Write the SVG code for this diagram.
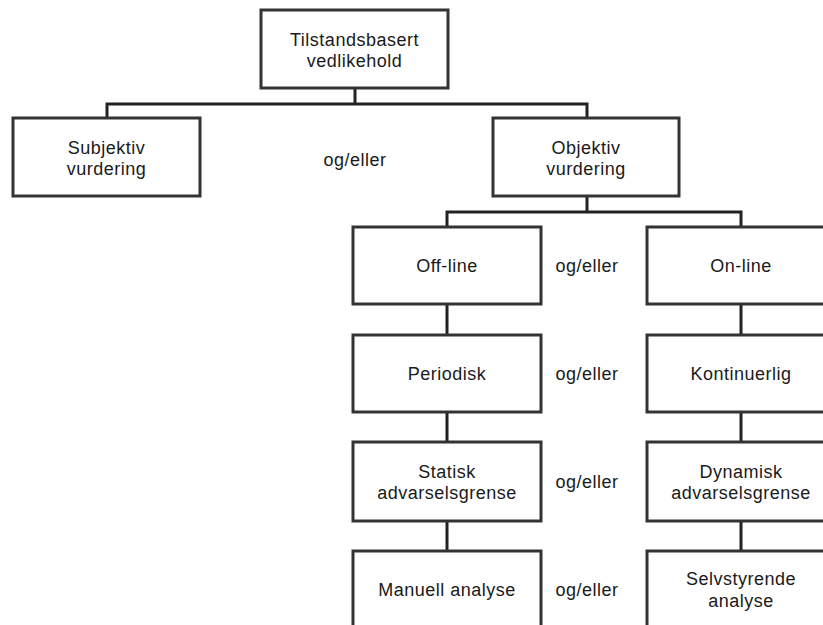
<svg xmlns="http://www.w3.org/2000/svg" width="823" height="625" viewBox="0 0 823 625">
  <style>
    .box { fill: #ffffff; stroke: #333333; stroke-width: 3; }
    .wire { fill: none; stroke: #222222; stroke-width: 3; stroke-linejoin: miter; }
    text { font-family: "Liberation Sans", Arial, sans-serif; font-size: 18px; letter-spacing: 0.5px; fill: #1a1a1a; text-anchor: middle; }
  </style>
  <rect width="823" height="625" fill="#ffffff"/>

  <!-- connectors -->
  <g id="connectors">
    <path class="wire" d="M355,88 V104 M107,118 V104 H587 V118"/>
    <path class="wire" d="M587,196 V212 M447,227 V212 H741 V227"/>
    <path class="wire" d="M447,304 V335 M447,412 V442 M447,521 V551"/>
    <path class="wire" d="M741,304 V335 M741,412 V442 M741,521 V551"/>
  </g>

  <g id="root">
    <rect class="box" x="261" y="10" width="187" height="78"/>
    <text x="354.5" y="46">Tilstandsbasert</text>
    <text x="354.5" y="67">vedlikehold</text>
  </g>

  <g id="subjektiv">
    <rect class="box" x="13" y="118" width="187" height="78"/>
    <text x="106.5" y="154">Subjektiv</text>
    <text x="106.5" y="175">vurdering</text>
  </g>

  <g id="og-eller-top">
    <text x="355" y="166">og/eller</text>
  </g>

  <g id="objektiv">
    <rect class="box" x="493" y="118" width="186" height="78"/>
    <text x="586" y="154">Objektiv</text>
    <text x="586" y="175">vurdering</text>
  </g>

  <g id="off-line">
    <rect class="box" x="353" y="227" width="188" height="77"/>
    <text x="447" y="272">Off-line</text>
  </g>
  <g id="og-eller-1"><text x="587" y="272">og/eller</text></g>
  <g id="on-line">
    <rect class="box" x="647" y="227" width="188" height="77"/>
    <text x="741" y="272">On-line</text>
  </g>

  <g id="periodisk">
    <rect class="box" x="353" y="335" width="188" height="77"/>
    <text x="447" y="380">Periodisk</text>
  </g>
  <g id="og-eller-2"><text x="587" y="380">og/eller</text></g>
  <g id="kontinuerlig">
    <rect class="box" x="647" y="335" width="188" height="77"/>
    <text x="741" y="380">Kontinuerlig</text>
  </g>

  <g id="statisk">
    <rect class="box" x="353" y="442" width="188" height="79"/>
    <text x="447" y="478">Statisk</text>
    <text x="447" y="499">advarselsgrense</text>
  </g>
  <g id="og-eller-3"><text x="587" y="488">og/eller</text></g>
  <g id="dynamisk">
    <rect class="box" x="647" y="442" width="188" height="79"/>
    <text x="741" y="478">Dynamisk</text>
    <text x="741" y="499">advarselsgrense</text>
  </g>

  <g id="manuell">
    <rect class="box" x="353" y="551" width="188" height="90"/>
    <text x="447" y="596">Manuell analyse</text>
  </g>
  <g id="og-eller-4"><text x="587" y="596">og/eller</text></g>
  <g id="selvstyrende">
    <rect class="box" x="647" y="551" width="188" height="90"/>
    <text x="741" y="585">Selvstyrende</text>
    <text x="741" y="607">analyse</text>
  </g>
</svg>
